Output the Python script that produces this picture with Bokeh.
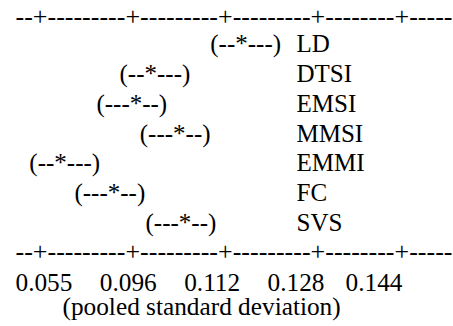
from bokeh.plotting import figure
from bokeh.models import Range1d, ColumnDataSource
from bokeh.core.properties import value
from bokeh.embed import file_html
from bokeh.resources import INLINE

# ---- data ----
groups = ["LD", "DTSI", "EMSI", "MMSI", "EMMI", "FC", "SVS"]
intervals = ["(--*---)", "(--*---)", "(---*--)", "(---*--)", "(--*---)", "(---*--)", "(---*--)"]
lower = [0.1098, 0.0941, 0.0901, 0.0976, 0.0785, 0.0863, 0.0986]
tick_labels = ["0.055", "0.096", "0.112", "0.128", "0.144"]
scale_line = "--+---------+---------+---------+--------+-----"
axis_title = "(pooled standard deviation)"

FONT = value("Liberation Serif")
FS = "25px"

p = figure(width=453, height=326, output_backend="svg", toolbar_location=None,
           x_range=Range1d(0.07351, 0.15187), y_range=Range1d(9.487, -1.453),
           min_border=0, x_axis_type=None, y_axis_type=None)
p.grid.visible = False
p.outline_line_color = None
p.background_fill_color = "white"
p.border_fill_color = "white"

rows = list(range(len(groups)))
x0 = p.x_range.start
src = ColumnDataSource(dict(x=lower, y=rows, iv=intervals, g=groups,
                            lx=[x0] * len(groups)))

common = dict(text_font=FONT, text_color="black",
              text_baseline="alphabetic", text_align="left")

p.text(x="x", y="y", text="iv", source=src, text_font_size=FS, **common)
p.text(x="lx", y="y", text="g", source=src, x_offset=296, text_font_size=FS, **common)

p.text(x=[x0], y=[-0.906], text=[scale_line], x_offset=15, text_font_size="26px", **common)
p.text(x=[x0], y=[len(groups) - 0.02], text=[scale_line], x_offset=15,
       text_font_size="26px", **common)

gap = "\u2003\u200a"
tick_str = gap.join(tick_labels[:4]) + "\u00a0\u00a0\u00a0\u200a" + tick_labels[4]
p.text(x=[x0], y=[len(groups) + 0.987], text=[tick_str], x_offset=15,
       text_font_size="25.3px", **common)
p.text(x=[x0], y=[len(groups) + 1.815], text=[axis_title], x_offset=62,
       text_font_size="25.3px", **common)

open("out.html", "w").write(file_html(p, INLINE))
